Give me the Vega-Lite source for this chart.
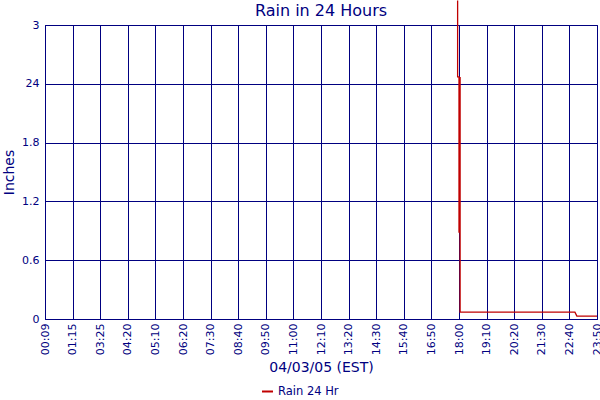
{
  "$schema": "https://vega.github.io/schema/vega-lite/v6.json",
  "autosize": {"type": "none"},
  "width": 552,
  "height": 294,
  "padding": {"left": 45, "top": 25, "right": 3, "bottom": 81},
  "background": "white",
  "title": {"text": "Rain in 24 Hours", "font": "DejaVu Sans", "fontSize": 16, "fontWeight": "normal", "color": "#000080", "anchor": "middle", "frame": "group", "offset": -21},
  "config": {
    "view": {"stroke": "#000080", "strokeWidth": 1},
    "axis": {"labelFont": "DejaVu Sans", "titleFont": "DejaVu Sans", "labelColor": "#000080", "titleColor": "#000080", "gridColor": "#000080", "gridOpacity": 1, "gridWidth": 1, "domainColor": "#000080", "ticks": false, "titleFontWeight": "normal"}
  },
  "data": {"values": [
    {"n": 1, "i": 14.95, "inches": 3.25},
    {"n": 2, "i": 14.95, "inches": 2.47},
    {"n": 3, "i": 15.0, "inches": 2.47},
    {"n": 4, "i": 15.0, "inches": 0.88},
    {"n": 5, "i": 15.04, "inches": 2.47},
    {"n": 6, "i": 15.04, "inches": 0.07},
    {"n": 7, "i": 19.2, "inches": 0.07},
    {"n": 8, "i": 19.27, "inches": 0.03},
    {"n": 9, "i": 20, "inches": 0.03}
  ]},
  "transform": [{"calculate": "'Rain  24 Hr'", "as": "series"}],
  "mark": {"type": "line", "strokeWidth": 1.3, "clip": false, "interpolate": "linear"},
  "encoding": {
    "x": {"field": "i", "type": "quantitative", "scale": {"domain": [0, 20], "nice": false, "zero": false},
      "axis": {"title": "04/03/05 (EST)", "titleFontSize": 14, "titlePadding": 6, "values": [0,1,2,3,4,5,6,7,8,9,10,11,12,13,14,15,16,17,18,19,20],
        "labelExpr": "['00:09','01:15','03:25','04:20','05:10','06:20','07:30','08:40','09:50','11:00','12:10','13:20','14:30','15:40','16:50','18:00','19:10','20:20','21:30','22:40','23:50'][round(datum.value)]",
        "labelAngle": 270, "labelAlign": "right", "labelBaseline": "middle", "labelFontSize": 11, "labelPadding": 4, "labelOverlap": false, "labelFlush": false, "grid": true}},
    "y": {"field": "inches", "type": "quantitative", "scale": {"domain": [0, 3], "nice": false},
      "axis": {"title": "Inches", "titleFontSize": 14, "titlePadding": 5, "values": [0, 0.6, 1.2, 1.8, 2.4, 3],
        "labelExpr": "abs(datum.value-2.4)<0.001 ? '24' : format(datum.value, '~g')", "labelFontSize": 11, "labelPadding": 6, "labelFlush": false, "grid": true}},
    "order": {"field": "n", "type": "quantitative"},
    "color": {"field": "series", "type": "nominal", "scale": {"range": ["#c00000"]},
      "legend": {"title": null, "orient": "none", "legendX": 216, "legendY": 360, "direction": "horizontal", "symbolType": "stroke", "symbolStrokeWidth": 2, "symbolSize": 120, "labelFont": "DejaVu Sans", "labelFontSize": 11.5, "labelColor": "#000080"}}
  }
}
